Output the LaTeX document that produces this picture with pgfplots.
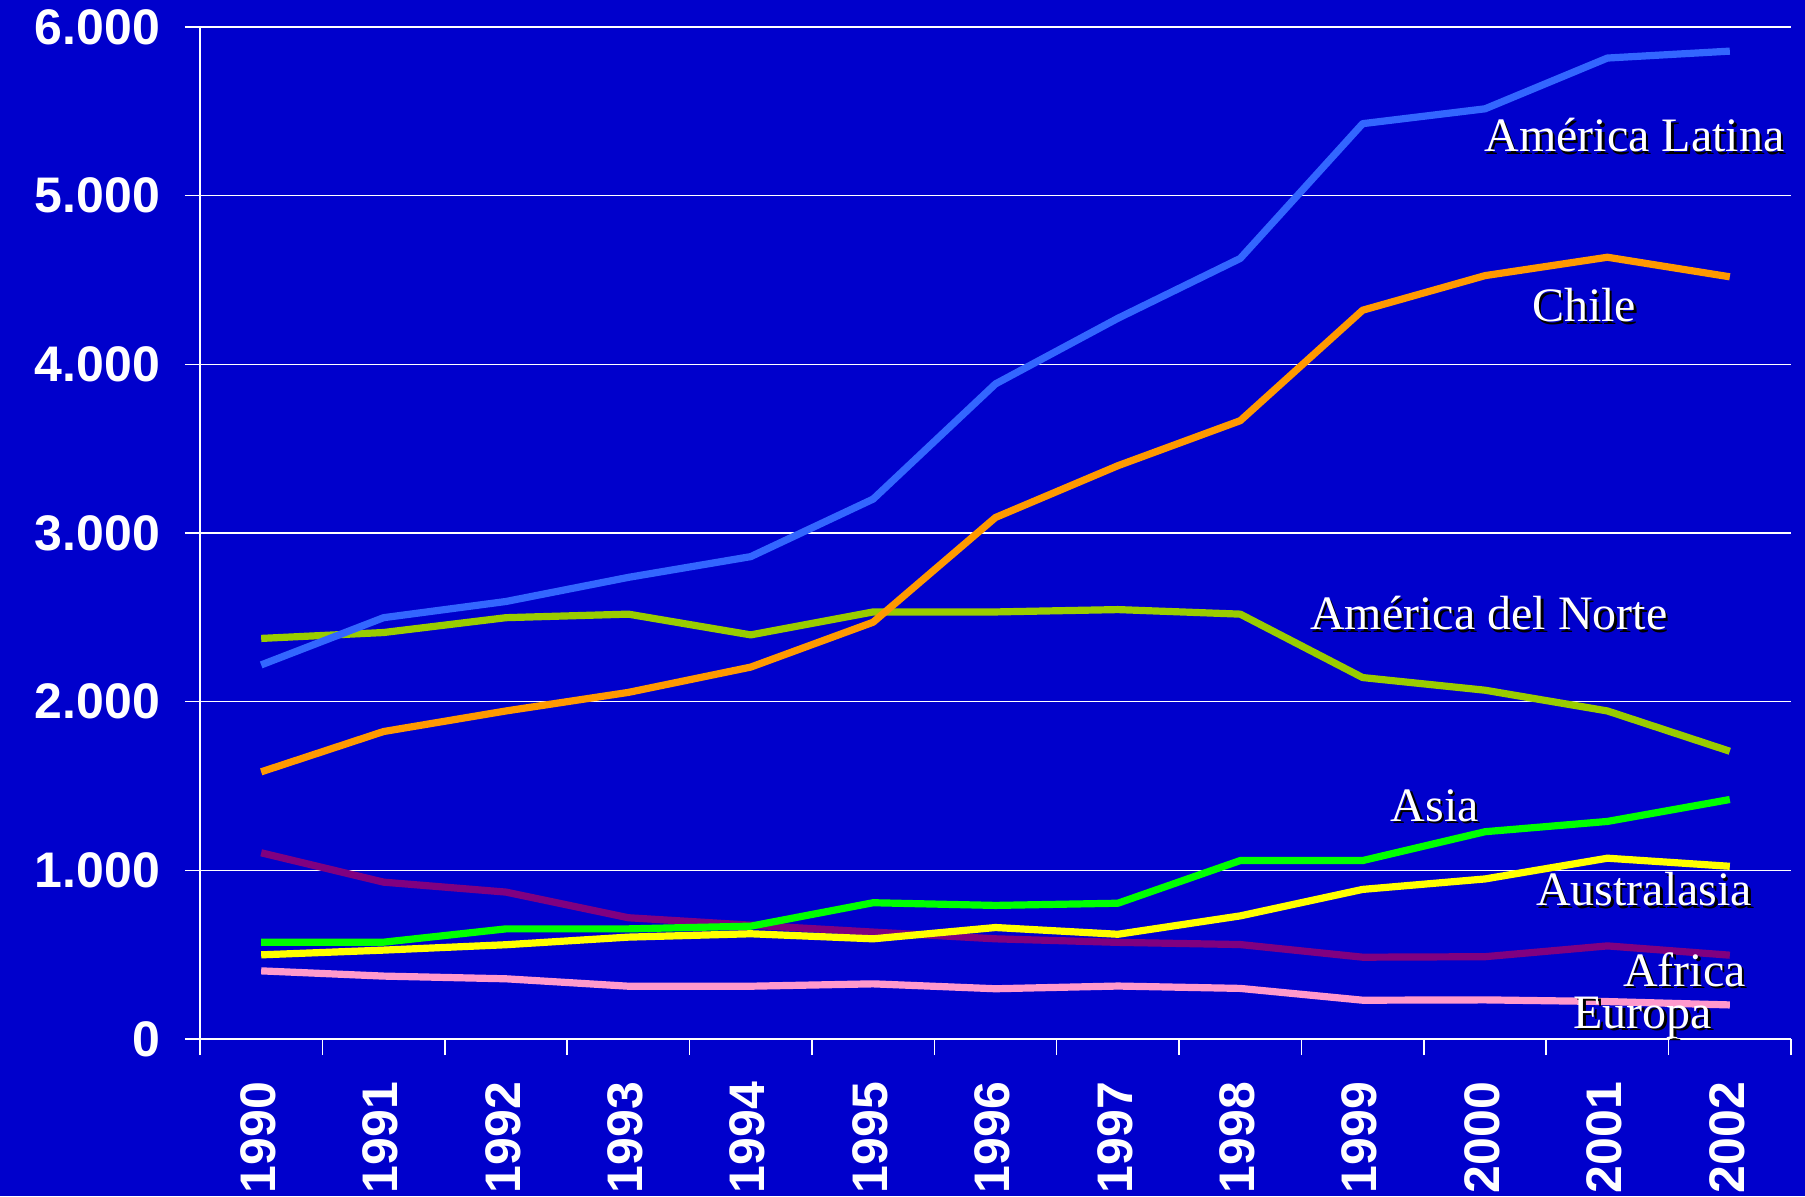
\documentclass[border=0pt]{standalone}
\usepackage{fontspec}
\setmainfont{Liberation Serif}
\newfontfamily\arial{Liberation Sans}
\usepackage{pgfplots}
\pgfplotsset{compat=1.18}
\definecolor{bgblue}{HTML}{0000CC}
\definecolor{clat}{HTML}{3366FF}
\definecolor{cchi}{HTML}{FF9900}
\definecolor{cnor}{HTML}{99CC00}
\definecolor{casi}{HTML}{00FF00}
\definecolor{caus}{HTML}{FFFF00}
\definecolor{cafr}{HTML}{800080}
\definecolor{ceur}{HTML}{FF99CC}
\newcommand{\shl}[3]{%
  \node[text=black,font=\fontsize{24}{28}\selectfont,inner sep=0pt] at ([xshift=1.2pt,yshift=-1.2pt]axis cs:#1,#2) {#3};
  \node[text=white,font=\fontsize{24}{28}\selectfont,inner sep=0pt] at (axis cs:#1,#2) {#3};}
\begin{document}
\begin{tikzpicture}
\path[use as bounding box] (-100pt,-78.5pt) rectangle (802.5pt,519.5pt);
\clip (-100pt,-78.5pt) rectangle (802.5pt,519.5pt);
\fill[bgblue] (-100pt,-78.5pt) rectangle (802.5pt,519.5pt);
\begin{axis}[
  at={(0,0)}, anchor=south west,
  scale only axis, width=795.5pt, height=506pt,
  xmin=-0.5, xmax=12.5, ymin=0, ymax=6000,
  axis lines*=left,
  axis line style={white, line width=0.8pt, -},
  tick align=outside,
  major tick length=7.5pt,
  minor tick length=8pt,
  xtick={0,...,12},
  xticklabels={1990,1991,1992,1993,1994,1995,1996,1997,1998,1999,2000,2001,2002},
  xtick style={white, line width=0.8pt},
  major x tick style={draw=none},
  minor xtick={-0.5,0.5,...,12.5},
  ytick={0,1000,...,6000},
  yticklabels={0,1.000,2.000,3.000,4.000,5.000,6.000},
  ytick style={white, line width=0.8pt},
  ymajorgrids,
  major grid style={white, line width=0.8pt},
  ticklabel style={text=white, font=\arial\bfseries\fontsize{25}{30}\selectfont},
  xticklabel style={rotate=90, anchor=east, xshift=-10.4pt, yshift=1.5pt},
  yticklabel style={xshift=-9pt},
  clip=false,
  every axis plot/.append style={line width=3.6pt, line join=round, no markers},
]
\addplot[cafr] coordinates {(0,1104)(1,930)(2,871)(3,719)(4,675)(5,634)(6,594)(7,573)(8,560)(9,485)(10,488)(11,552)(12,497)};
\addplot[ceur] coordinates {(0,404)(1,373)(2,357)(3,313)(4,313)(5,327)(6,298)(7,314)(8,300)(9,230)(10,232)(11,222)(12,202)};
\addplot[casi] coordinates {(0,574)(1,574)(2,653)(3,653)(4,669)(5,808)(6,792)(7,805)(8,1058)(9,1058)(10,1229)(11,1290)(12,1420)};
\addplot[caus] coordinates {(0,499)(1,527)(2,559)(3,604)(4,624)(5,594)(6,661)(7,621)(8,730)(9,887)(10,949)(11,1072)(12,1024)};
\addplot[cnor] coordinates {(0,2375)(1,2410)(2,2498)(3,2519)(4,2396)(5,2532)(6,2532)(7,2546)(8,2519)(9,2143)(10,2068)(11,1945)(12,1706)};
\addplot[cchi] coordinates {(0,1584)(1,1823)(2,1945)(3,2055)(4,2205)(5,2471)(6,3092)(7,3399)(8,3666)(9,4321)(10,4526)(11,4635)(12,4519)};
\addplot[clat] coordinates {(0,2218)(1,2498)(2,2594)(3,2737)(4,2860)(5,3201)(6,3884)(7,4273)(8,4628)(9,5427)(10,5515)(11,5816)(12,5857)};
\shl{11.22}{5357}{América Latina}
\shl{10.81}{4349}{Chile}
\shl{10.03}{2523}{América del Norte}
\shl{9.59}{1385}{Asia}
\shl{11.30}{887}{Australasia}
\shl{11.63}{412}{Africa}
\shl{11.29}{125}{Europa}
\end{axis}
\end{tikzpicture}
\end{document}
